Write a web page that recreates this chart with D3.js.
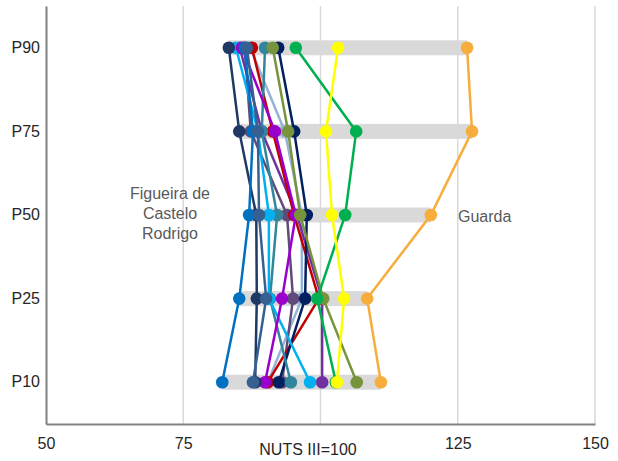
<!DOCTYPE html>
<html><head><meta charset="utf-8">
<script src="https://cdn.jsdelivr.net/npm/d3@7"></script>
<style>body{margin:0;background:#fff}svg{display:block;font-family:"Liberation Sans",Arial,sans-serif}</style>
</head><body><svg id="c" width="618" height="461"></svg>
<script>
// Percentile categories (top to bottom on the chart)
const percentiles = ["P90","P75","P50","P25","P10"];
const xTicks = [50,75,100,125,150];
const xTickLabels = ["50","75","","125","150"]; // 100 sits under the axis title
// Municipality values, ordered P90, P75, P50, P25, P10 (NUTS III = 100)
const lightSteel = [87.2, 93.5, 96.6, 96.6, 90.4];
const grayPurple = [86.2, 87.3, 93.9, 95.0, 93.0];
const purple     = [85.3, 89.3, 95.7, 100.3, 100.3];
const red        = [87.5, 91.3, 95.2, 99.7, 90.4];
const darkNavy   = [92.3, 95.2, 97.5, 97.2, 92.4];
const teal       = [89.9, 89.3, 92.1, 90.8, 94.6];
const lightBlue  = [84.6, 88.6, 90.6, 90.6, 98.1];
const violet     = [85.7, 91.7, 95.5, 93.0, 89.9];
const navy       = [83.3, 85.2, 88.3, 88.4, 88.1];
const figueira   = [86.2, 87.7, 87.0, 85.2, 82.1];
const slate      = [86.6, 88.6, 88.8, 90.1, 87.7];
const olive      = [91.3, 94.1, 96.3, 100.5, 106.6];
const green      = [95.5, 106.5, 104.5, 99.4, 102.8];
const yellow     = [103.2, 101.0, 102.1, 104.3, 103.0];
const guarda     = [126.7, 127.6, 120.1, 108.5, 111.0];

const series = [
  {name:"a", values: lightSteel, color:"#95b3d7"},
  {name:"g", values: grayPurple, color:"#604a7b"},
  {name:"b", values: purple, color:"#7030a0"},
  {name:"c", values: red, color:"#c00000"},
  {name:"d", values: darkNavy, color:"#002060"},
  {name:"e", values: teal, color:"#31859c"},
  {name:"f", values: lightBlue, color:"#00b0f0"},
  {name:"h", values: violet, color:"#9900cc"},
  {name:"i", values: navy, color:"#1f3864"},
  {name:"Figueira de Castelo Rodrigo", values: figueira, color:"#0070c0"},
  {name:"k", values: slate, color:"#376092"},
  {name:"l", values: olive, color:"#77933c"},
  {name:"m", values: green, color:"#00b050"},
  {name:"n", values: yellow, color:"#ffff00"},
  {name:"Guarda", values: guarda, color:"#f6ad3c"}
];

const svg = d3.select("#c");
const x = d3.scaleLinear().domain([50,150]).range([46,595]);
const y = d3.scaleBand().domain(percentiles).range([6,424]).padding(0);
const yc = p => y(p) + y.bandwidth()/2;

// gridlines
svg.append("g").selectAll("line").data(xTicks.slice(1)).join("line")
  .attr("x1", d=>x(d)).attr("x2", d=>x(d)).attr("y1",6).attr("y2",424)
  .attr("stroke","#d9d9d9").attr("stroke-width",1.5);

// range bars
percentiles.forEach((p,i)=>{
  const vals = series.map(s=>s.values[i]);
  const mn = d3.min(vals), mx = d3.max(vals);
  svg.append("rect").attr("x", x(mn)).attr("width", x(mx)-x(mn))
    .attr("y", yc(p)-7.5).attr("height",15).attr("fill","#d9d9d9");
});

// axes
const xAxis = svg.append("g").attr("transform","translate(0,424)")
  .call(d3.axisBottom(x).tickValues(xTicks).tickFormat((d,i)=>xTickLabels[i]).tickSize(0).tickPadding(14));
xAxis.select(".domain").attr("stroke","#808080").attr("stroke-width",2);
xAxis.selectAll("text").attr("font-size",16).attr("fill","#262626").attr("font-family","Liberation Sans, Arial, sans-serif");

const yAxis = svg.append("g").attr("transform","translate(46,0)")
  .call(d3.axisLeft(y).tickSize(0).tickPadding(6));
yAxis.select(".domain").attr("stroke","#808080").attr("stroke-width",2);
yAxis.selectAll("text").attr("font-size",16).attr("fill","#262626").attr("font-family","Liberation Sans, Arial, sans-serif");

// series
const line = d3.line().x(d=>x(d.v)).y(d=>yc(d.p));
series.forEach(s=>{
  const pts = s.values.map((v,i)=>({v, p: percentiles[i]}));
  const g = svg.append("g");
  g.append("path").attr("d", line(pts)).attr("fill","none")
    .attr("stroke", s.color).attr("stroke-width",2.5);
  g.selectAll("circle").data(pts).join("circle")
    .attr("cx", d=>x(d.v)).attr("cy", d=>yc(d.p)).attr("r",6.3)
    .attr("fill", s.color);
});

// labels
const lab = svg.append("g").attr("font-size",16).attr("fill","#595959");
["Figueira de","Castelo","Rodrigo"].forEach((t,i)=>{
  lab.append("text").attr("x",170).attr("y",199+i*20).attr("text-anchor","middle").text(t);
});
lab.append("text").attr("x",458).attr("y",222).text("Guarda");

svg.append("text").attr("x",308).attr("y",455).attr("text-anchor","middle")
  .attr("font-size",16).attr("fill","#262626").text("NUTS III=100");
</script>
</body></html>
